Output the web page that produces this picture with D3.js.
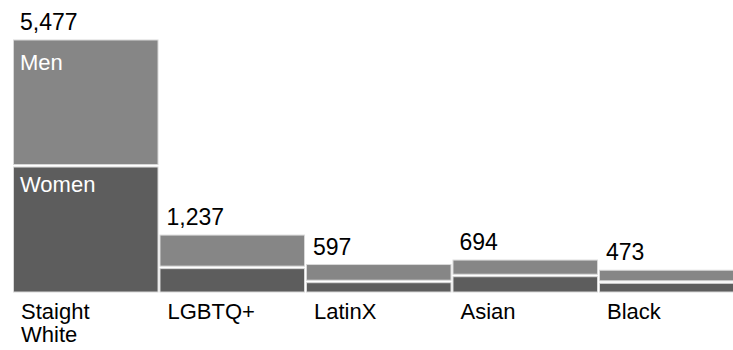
<!DOCTYPE html>
<html>
<head>
<meta charset="utf-8">
<script src="https://cdn.jsdelivr.net/npm/d3@7"></script>
<style>
  body { margin: 0; background: #fff; }
  text { font-family: "Liberation Sans", Arial, sans-serif; }
</style>
</head>
<body>
<svg id="chart" width="733" height="350"></svg>
<script>
// data
const categories = ["Staight White", "LGBTQ+", "LatinX", "Asian", "Black"];
const catLines = [["Staight", "White"], ["LGBTQ+"], ["LatinX"], ["Asian"], ["Black"]];
const totals = [5477, 1237, 597, 694, 473];
const women = [2738, 530, 224, 354, 211];
const men = totals.map((t, i) => t - women[i]);

const svg = d3.select("#chart");

const x = d3.scaleBand()
    .domain(categories)
    .range([13, 745.5]);

const y = d3.scaleLinear()
    .domain([0, d3.max(totals)])
    .range([292, 40]);

const fmt = d3.format(",");
const bw = x.bandwidth() - 2;

const rows = categories.map((c, i) => ({ c, i, total: totals[i], w: women[i], m: men[i] }));

// women (bottom)
svg.append("g").selectAll("rect")
    .data(rows)
    .enter().append("rect")
    .attr("x", d => x(d.c) + 0.5)
    .attr("y", d => y(d.w) + 1)
    .attr("width", bw)
    .attr("height", d => y(0) - y(d.w) - 1)
    .attr("fill", "#5d5d5d")
    .attr("stroke", "#d8d8d8")
    .attr("stroke-width", 1);

// men (top)
svg.append("g").selectAll("rect")
    .data(rows)
    .enter().append("rect")
    .attr("x", d => x(d.c) + 0.5)
    .attr("y", d => y(d.total))
    .attr("width", bw)
    .attr("height", d => y(d.w) - y(d.total) - 1.5)
    .attr("fill", "#868686")
    .attr("stroke", "#d8d8d8")
    .attr("stroke-width", 1);

// totals
svg.append("g").selectAll("text")
    .data(rows)
    .enter().append("text")
    .attr("x", d => x(d.c) + 7)
    .attr("y", d => y(d.total) - 10)
    .attr("font-size", 23)
    .attr("fill", "#000")
    .text(d => fmt(d.total));

// series labels inside the big bar
const first = rows[0];
svg.append("text")
    .attr("x", x(first.c) + 7)
    .attr("y", y(first.total) + 30)
    .attr("font-size", 22)
    .attr("fill", "#fff")
    .text("Men");
svg.append("text")
    .attr("x", x(first.c) + 7)
    .attr("y", y(first.w) + 26)
    .attr("font-size", 22)
    .attr("fill", "#fff")
    .text("Women");

// category labels
const cl = svg.append("g").selectAll("text")
    .data(rows)
    .enter().append("text")
    .attr("x", d => x(d.c) + 8)
    .attr("y", 319)
    .attr("font-size", 22)
    .attr("fill", "#000");
cl.selectAll("tspan")
    .data(d => catLines[d.i].map(t => ({ t, x: x(d.c) + 8 })))
    .enter().append("tspan")
    .attr("x", d => d.x)
    .attr("dy", (d, i) => i === 0 ? 0 : 23)
    .text(d => d.t);
</script>
</body>
</html>
